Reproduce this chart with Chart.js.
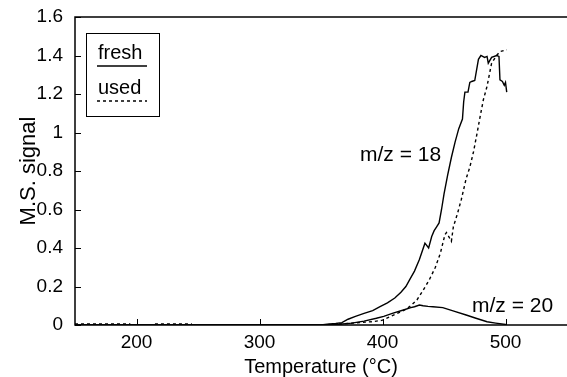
<!DOCTYPE html>
<html>
<head>
<meta charset="utf-8">
<script src="https://cdn.jsdelivr.net/npm/chart.js@4.4.1/dist/chart.umd.min.js"></script>
<style>
  html, body { margin: 0; padding: 0; background: #fff; }
  canvas { display: block; }
</style>
</head>
<body>
<canvas id="ms" width="567" height="377"></canvas>
<script>
// Temperatures (°C) and signals for each trace
const freshT18 = [150, 350, 355, 362, 367, 372, 378, 385, 392, 398, 404, 410, 415, 419, 422, 426, 430, 434.5, 437.5, 440, 442, 444, 446, 448, 450, 453, 456, 459, 462, 465, 466, 467, 469.5, 471, 472.5, 475, 478, 480, 483, 485, 486, 488.7, 492.8, 494.7, 495.5, 497.5, 499, 500, 501];
const freshV18 = [0, 0, 0.004, 0.008, 0.012, 0.03, 0.045, 0.06, 0.075, 0.095, 0.115, 0.14, 0.17, 0.2, 0.234, 0.28, 0.34, 0.425, 0.40, 0.46, 0.49, 0.51, 0.53, 0.6, 0.68, 0.78, 0.87, 0.95, 1.02, 1.07, 1.16, 1.21, 1.21, 1.26, 1.265, 1.27, 1.38, 1.40, 1.39, 1.395, 1.36, 1.39, 1.40, 1.395, 1.273, 1.265, 1.245, 1.26, 1.21];

const usedT18 = [150, 195, 196, 214, 215, 245, 246, 349, 350, 365, 376, 386, 392, 400, 406, 412, 418, 423, 428, 433, 438, 443, 447, 450.8, 452, 456, 457.6, 461, 464, 468, 471, 474, 477, 479, 482, 485, 488.7, 492.8, 495.5, 501];
const usedV18 = [0.006, 0.006, null, null, 0.006, 0.006, null, null, 0, 0.005, 0.01, 0.015, 0.017, 0.025, 0.043, 0.06, 0.078, 0.1, 0.13, 0.18, 0.234, 0.3, 0.372, 0.47, 0.48, 0.435, 0.51, 0.58, 0.65, 0.76, 0.82, 0.9, 1.0, 1.07, 1.17, 1.24, 1.36, 1.40, 1.42, 1.43];

const freshT20 = [150, 350, 365, 375, 385, 395, 401, 408, 417, 423, 426, 430, 433, 437, 441, 449, 458, 468, 476, 485, 492, 500, 501];
const freshV20 = [0, 0, 0.004, 0.01, 0.02, 0.035, 0.045, 0.06, 0.078, 0.09, 0.095, 0.104, 0.1, 0.097, 0.095, 0.09, 0.072, 0.052, 0.035, 0.017, 0.01, 0.003, 0];

const xTicks = [200, 300, 400, 500];
const yTicks = [0, 0.2, 0.4, 0.6, 0.8, 1, 1.2, 1.4, 1.6];
const yTickLabels = ['0', '0.2', '0.4', '0.6', '0.8', '1', '1.2', '1.4', '1.6'];

const legendNames = ['fresh', 'used'];
const notes = [
  { text: 'm/z = 18', x: 381.7, y: 0.883 },
  { text: 'm/z = 20', x: 472.8, y: 0.099 }
];

const FONT = "'Liberation Sans', Arial, Helvetica, sans-serif";
const SIZE = 19;

function pairs(xs, ys) {
  return xs.map((x, i) => ({ x: x, y: ys[i] }));
}

// axes box (no right side), inward ticks, legend box and trace labels
const extras = {
  id: 'extras',
  afterDraw(chart) {
    const ctx = chart.ctx;
    const ca = chart.chartArea;
    const sx = chart.scales.x, sy = chart.scales.y;
    ctx.save();
    ctx.strokeStyle = '#000';
    ctx.lineWidth = 1.5;
    ctx.beginPath();
    ctx.moveTo(ca.right, ca.top);
    ctx.lineTo(ca.left, ca.top);
    ctx.lineTo(ca.left, ca.bottom);
    ctx.lineTo(ca.right, ca.bottom);
    ctx.stroke();

    ctx.lineWidth = 1;
    ctx.beginPath();
    xTicks.forEach(v => {
      const px = Math.round(sx.getPixelForValue(v)) + 0.5;
      ctx.moveTo(px, ca.bottom);
      ctx.lineTo(px, ca.bottom - 6);
    });
    yTicks.forEach(v => {
      const py = Math.round(sy.getPixelForValue(v)) + 0.5;
      ctx.moveTo(ca.left, py);
      ctx.lineTo(ca.left + 6, py);
    });
    ctx.stroke();

    // legend
    const bx = ca.left + 11, by = ca.top + 16, bw = 73, bh = 83;
    ctx.lineWidth = 1;
    ctx.strokeRect(bx + 0.5, by + 0.5, bw, bh);
    ctx.fillStyle = '#000';
    ctx.font = '20px ' + FONT;
    ctx.textAlign = 'left';
    ctx.textBaseline = 'middle';
    ctx.fillText(legendNames[0], bx + 12, by + 20);
    ctx.fillText(legendNames[1], bx + 12, by + 55);
    ctx.lineWidth = 1.5;
    ctx.beginPath();
    ctx.moveTo(bx + 11, by + 33);
    ctx.lineTo(bx + 61, by + 33);
    ctx.stroke();
    ctx.setLineDash([3, 3]);
    ctx.beginPath();
    ctx.moveTo(bx + 11, by + 68);
    ctx.lineTo(bx + 61, by + 68);
    ctx.stroke();
    ctx.setLineDash([]);

    ctx.font = '21px ' + FONT;
    notes.forEach(n => {
      ctx.fillText(n.text, sx.getPixelForValue(n.x), sy.getPixelForValue(n.y));
    });
    ctx.restore();
  }
};

const lineStyle = { borderColor: '#000', borderWidth: 1.4, pointRadius: 0, tension: 0, fill: false, spanGaps: false };

new Chart(document.getElementById('ms'), {
  type: 'line',
  data: {
    datasets: [
      Object.assign({ label: 'fresh m/z=18', data: pairs(freshT18, freshV18) }, lineStyle),
      Object.assign({ label: 'used m/z=18', data: pairs(usedT18, usedV18), borderDash: [3, 3] }, lineStyle),
      Object.assign({ label: 'fresh m/z=20', data: pairs(freshT20, freshV20) }, lineStyle)
    ]
  },
  options: {
    responsive: false,
    animation: false,
    devicePixelRatio: 1,
    layout: { padding: { top: 17, right: 0, left: 0, bottom: 0 } },
    plugins: { legend: { display: false }, tooltip: { enabled: false } },
    scales: {
      x: {
        type: 'linear',
        min: 150,
        max: 550,
        grid: { display: false, drawTicks: false },
        border: { display: false },
        afterBuildTicks: s => { s.ticks = xTicks.map(v => ({ value: v })); },
        afterFit: s => { s.height = 52; s.paddingLeft = 0; s.paddingRight = 0; },
        ticks: { color: '#000', padding: 6, maxRotation: 0, font: { family: FONT, size: SIZE } },
        title: { display: true, text: 'Temperature (°C)', color: '#000', padding: { bottom: -2 }, font: { family: FONT, size: 20 } }
      },
      y: {
        min: 0,
        max: 1.6,
        grid: { display: false, drawTicks: false },
        border: { display: false },
        afterBuildTicks: s => { s.ticks = yTicks.map(v => ({ value: v })); },
        afterFit: s => { s.width = 75; s.paddingTop = 0; s.paddingBottom = 0; },
        ticks: {
          color: '#000',
          padding: 12,
          font: { family: FONT, size: SIZE },
          callback: (v) => yTickLabels[yTicks.indexOf(v)]
        },
        title: { display: true, text: 'M.S. signal', color: '#000', padding: { top: 16 }, font: { family: FONT, size: 22 } }
      }
    }
  },
  plugins: [extras]
});
</script>
</body>
</html>
